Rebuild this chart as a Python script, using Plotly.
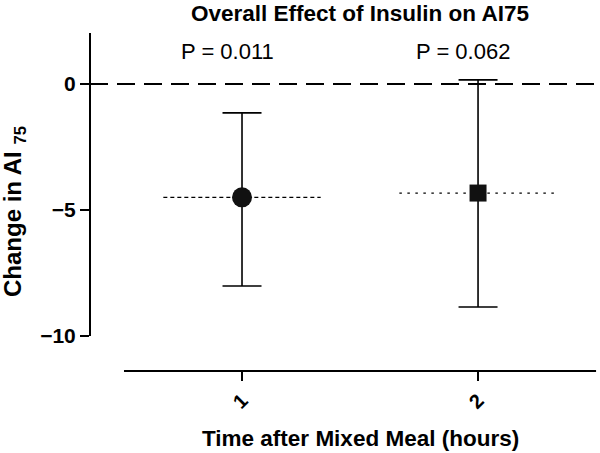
import plotly.graph_objects as go

# Data
times = [1, 2]
tick_labels = ["1", "2"]
means = [-4.5, -4.33]
upper = [-1.15, 0.16]
lower = [-8.02, -8.85]
p_labels = ["P = 0.011", "P = 0.062"]
marker_symbols = ["circle", "square"]
marker_sizes = [20, 17]
mean_line_dash = ["4px,3px", "2.5px,5.5px"]

y_ticks = [0, -5, -10]
y_tick_text = ["0", "\u22125", "\u221210"]

FONT = "Liberation Sans, Arial, Helvetica, sans-serif"
half_w = 1 / 3
x_range = [0.356, 2.504]
y_range = [-11.39, 2.02]

fig = go.Figure()

# mean reference lines around each point
for t, m, d in zip(times, means, mean_line_dash):
    fig.add_trace(go.Scatter(
        x=[t - half_w, t + half_w], y=[m, m], mode="lines",
        line=dict(color="black", width=1.3, dash=d),
        showlegend=False, hoverinfo="skip"))

# points with error bars
for i, t in enumerate(times):
    fig.add_trace(go.Scatter(
        x=[t], y=[means[i]], mode="markers",
        marker=dict(symbol=marker_symbols[i], size=marker_sizes[i],
                    color="#111111", line=dict(width=0)),
        error_y=dict(type="data", symmetric=False,
                     array=[upper[i] - means[i]],
                     arrayminus=[means[i] - lower[i]],
                     color="black", thickness=1.6, width=19.5),
        showlegend=False))

# zero dashed line
fig.add_shape(type="line", xref="paper", x0=0, x1=1, yref="y", y0=0, y1=0,
              line=dict(color="black", width=2, dash="18px,9px"))
# y axis line (offset R style)
fig.add_shape(type="line", xref="paper", x0=0, x1=0, yref="y",
              y0=min(y_ticks), y1=y_range[1],
              line=dict(color="black", width=2))
# x axis line
fig.add_shape(type="line", xref="x", x0=0.5, x1=2.5, yref="paper", y0=0, y1=0,
              line=dict(color="black", width=2))

for t, p in zip(times, p_labels):
    fig.add_annotation(x=t, y=1.27, xref="x", yref="y", text=p,
                       showarrow=False, xshift=-15,
                       font=dict(family=FONT, size=22, color="black"))

# y axis title
fig.add_annotation(x=(14 - 90) / 507, xref="paper", y=1 - (212 - 33) / 338, yref="paper",
                   xanchor="center", yanchor="middle", showarrow=False, textangle=-90,
                   text="Change in AI <sub>75</sub>",
                   font=dict(family=FONT, size=24, color="black", weight="bold"))
# x axis title
fig.add_annotation(x=(360 - 90) / 507, xref="paper", y=-(438 - 371) / 338, yref="paper",
                   xanchor="center", yanchor="middle", showarrow=False,
                   text="Time after Mixed Meal (hours)",
                   font=dict(family=FONT, size=22.5, color="black", weight="bold"))

fig.update_layout(
    width=600, height=453,
    margin=dict(l=90, r=3, t=33, b=82, autoexpand=False),
    paper_bgcolor="white", plot_bgcolor="white",
    title=dict(text="Overall Effect of Insulin on AI75", x=360 / 600, xanchor="center",
               y=1 - 13 / 453, yanchor="middle", automargin=False,
               font=dict(family=FONT, size=22.5, color="black", weight="bold")),
    xaxis=dict(range=x_range, showgrid=False, zeroline=False, showline=False,
               automargin=False,
               tickvals=times, ticktext=tick_labels, tickangle=-45,
               ticks="outside", ticklen=9, tickwidth=2, tickcolor="black",
               tickfont=dict(family=FONT, size=20, color="black", weight="bold")),
    yaxis=dict(range=y_range, showgrid=False, zeroline=False, showline=False,
               automargin=False,
               tickvals=y_ticks, ticktext=y_tick_text,
               ticks="outside", ticklen=9, tickwidth=2, tickcolor="black",
               tickfont=dict(family=FONT, size=21, color="black", weight="bold")),
)

fig.write_html("out.html", config={"displayModeBar": False},
               post_script="document.body.style.margin='0';")
